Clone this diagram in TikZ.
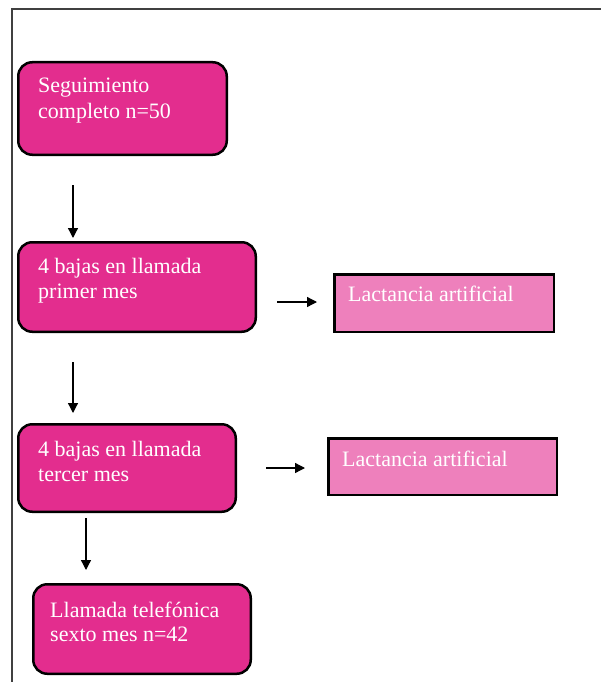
\documentclass[tikz,border=0pt]{standalone}
\usepackage{fontspec}
\setmainfont{Liberation Serif}
\newfontfamily\boxfont{Liberation Serif}
\usetikzlibrary{arrows.meta}
\definecolor{deeppink}{HTML}{E32D8E}
\definecolor{lightpink}{HTML}{EE80BC}
\tikzset{
  roundbox/.style={draw=black, line width=2.5pt, fill=deeppink, rounded corners=14pt, inner sep=0pt},
  lactbox/.style={draw=black, line width=2.5pt, fill=lightpink, inner sep=0pt},
  boxtext/.style={anchor=base west, inner sep=0pt, text=white, font=\boxfont\fontsize{22}{25}\selectfont},
  flow/.style={line width=1.3pt, -{Triangle[length=10pt,width=10pt]}},
  frame/.style={draw=black!75, line width=1.6pt}
}
\begin{document}
\begin{tikzpicture}[x=1pt,y=-1pt]
\useasboundingbox (0,0) rectangle (601,682);
\fill[white] (0,0) rectangle (601,682);
\draw[frame] (12,682) -- (12,9) -- (601,9);

\node[roundbox, minimum width=208.5pt, minimum height=92.5pt] (b1) at (122.5,108.5) {};
\node[roundbox, minimum width=237.5pt, minimum height=89.5pt] (b2) at (137,287) {};
\node[roundbox, minimum width=217.5pt, minimum height=87.5pt] (b3) at (127,468) {};
\node[roundbox, minimum width=217.5pt, minimum height=89.5pt] (b4) at (142,629) {};
\node[lactbox, minimum width=219.5pt, minimum height=57.5pt] (l1) at (444,303) {};
\node[lactbox, minimum width=228.5pt, minimum height=56.5pt] (l2) at (442.5,466.5) {};

\node[boxtext] (t1a) at (38,93) {Seguimiento};
\node[boxtext] (t1b) at (38,118) {completo n=50};
\node[boxtext] (t2a) at (38,273) {4 bajas en llamada};
\node[boxtext] (t2b) at (38,298) {primer mes};
\node[boxtext] (t3a) at (38,456) {4 bajas en llamada};
\node[boxtext] (t3b) at (38,481) {tercer mes};
\node[boxtext] (t4a) at (50,617) {Llamada telefónica};
\node[boxtext] (t4b) at (50,641) {sexto mes n=42};
\node[boxtext] (tl1) at (348,301) {Lactancia artificial};
\node[boxtext] (tl2) at (342,466) {Lactancia artificial};

\coordinate (a1s) at (73,185);
\coordinate (a1e) at (73,238);
\coordinate (a2s) at (73,362);
\coordinate (a2e) at (73,413);
\coordinate (a3s) at (86,518);
\coordinate (a3e) at (86,570);
\coordinate (h1s) at (277,302);
\coordinate (h1e) at (317,302);
\coordinate (h2s) at (266,468);
\coordinate (h2e) at (305,468);
\draw[flow] (a1s) -- (a1e);
\draw[flow] (a2s) -- (a2e);
\draw[flow] (a3s) -- (a3e);
\draw[flow] (h1s) -- (h1e);
\draw[flow] (h2s) -- (h2e);
\end{tikzpicture}
\end{document}
